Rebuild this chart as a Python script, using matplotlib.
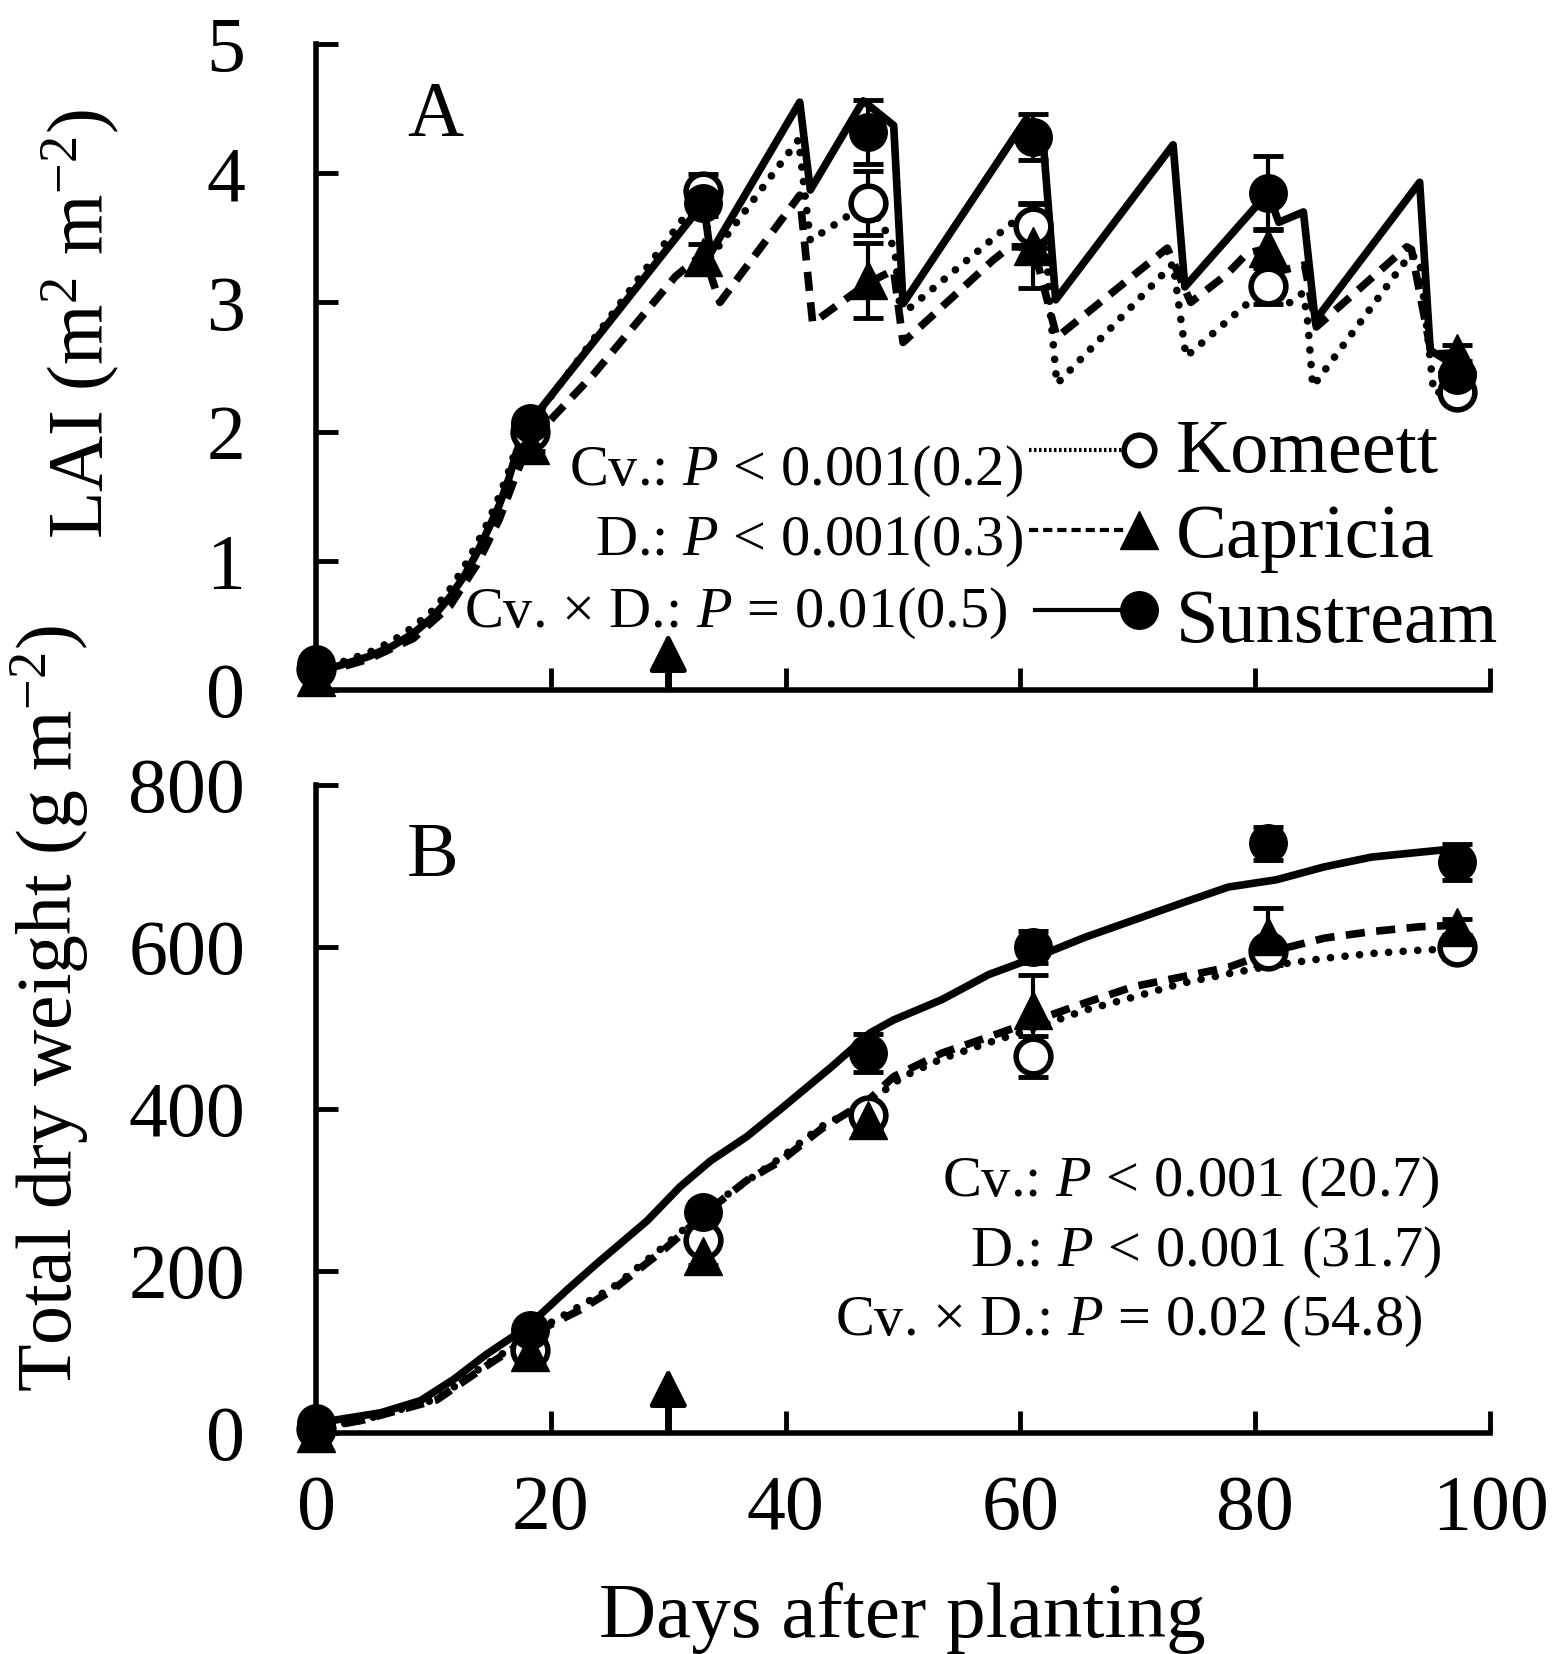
import matplotlib
matplotlib.use('Agg')
import matplotlib.pyplot as plt

plt.rcParams['font.family'] = ['Liberation Serif', 'DejaVu Serif']
plt.rcParams['mathtext.fontset'] = 'custom'
plt.rcParams['mathtext.rm'] = 'Liberation Serif'
plt.rcParams['mathtext.it'] = 'Liberation Serif:italic'

cultivars = ['Komeett', 'Capricia', 'Sunstream']
obs_days = [0, 18.2, 33.0, 47.0, 61.1, 81.1, 97.2]
harvest_day = 30

# LAI observations (m2 m-2) and standard errors
lai_obs = {
    'Komeett':   [0.16, 2.00, 3.86, 3.77, 3.59, 3.13, 2.31],
    'Capricia':  [0.10, 1.90, 3.35, 3.17, 3.44, 3.42, 2.61],
    'Sunstream': [0.20, 2.07, 3.77, 4.32, 4.28, 3.85, 2.44],
}
lai_err = {
    'Komeett':   [0.02, 0.05, 0.13, 0.25, 0.17, 0.14, 0.06],
    'Capricia':  [0.02, 0.05, 0.10, 0.29, 0.33, 0.14, 0.06],
    'Sunstream': [0.02, 0.05, 0.10, 0.25, 0.18, 0.28, 0.06],
}

# simulated LAI
sun_lai_days = [0, 2, 4.5, 6.5, 8.3, 10, 11.4, 12.6, 13.7, 14.7, 15.6, 16.4, 17.1, 18.2,
                33.0, 33.6, 41.2, 42.1, 46.6, 49.2, 50.0, 60.5, 62.0, 63.0, 73.0, 74.0,
                81.1, 82.0, 84.1, 85.1, 94.0, 94.9, 97.2]
sun_lai = [0.14, 0.19, 0.26, 0.34, 0.44, 0.57, 0.72, 0.88, 1.06, 1.25, 1.43, 1.63, 1.85, 2.07,
           3.77, 3.38, 4.55, 3.87, 4.56, 4.37, 2.99, 4.42, 4.17, 3.02, 4.22, 3.12,
           3.85, 3.62, 3.70, 2.86, 3.93, 2.63, 2.50]
kom_lai_days = [0, 2, 4.5, 6.5, 8.3, 10, 11.4, 12.6, 13.7, 14.7, 15.6, 16.4, 17.1, 18.2,
                33.0, 33.6, 41.1, 42.1, 47.0, 48.3, 49.3, 49.7, 50.6, 58.0, 59.5, 61.1,
                62.2, 62.5, 63.1, 73.0, 74.1, 81.1, 82.8, 84.0, 84.4, 84.9, 93.2, 94.0,
                95.2, 97.2]
kom_lai = [0.15, 0.21, 0.29, 0.38, 0.49, 0.62, 0.78, 0.95, 1.13, 1.31, 1.50, 1.69, 1.89, 2.05,
           3.86, 3.35, 4.26, 3.48, 3.77, 3.59, 3.41, 2.99, 2.96, 3.52, 3.63, 3.59,
           3.43, 2.97, 2.37, 3.30, 2.58, 3.13, 2.99, 3.07, 2.92, 2.35, 3.37, 3.33,
           2.30, 2.32]
cap_lai_days = [0, 4.5, 8.3, 11.4, 13.7, 15.6, 17.1, 18.2, 23.7, 30.6, 33.0, 34.4, 41.2,
                42.3, 47.0, 49.2, 50.0, 57.7, 59.1, 61.1, 63.1, 72.5, 74.5, 77.6, 79.3,
                81.1, 82.4, 84.2, 85.2, 92.9, 93.3, 95.0, 97.2]
cap_lai = [0.12, 0.24, 0.40, 0.65, 0.97, 1.32, 1.68, 1.92, 2.45, 3.20, 3.38, 3.00, 3.83,
           2.84, 3.15, 3.25, 2.69, 3.33, 3.43, 3.43, 2.73, 3.42, 3.00, 3.22, 3.38,
           3.42, 3.25, 3.29, 2.81, 3.43, 3.41, 2.60, 2.61]

# total dry weight observations (g m-2) and standard errors
dw_obs = {
    'Komeett':   [5, 103, 238, 393, 465, 595, 600],
    'Capricia':  [0, 100, 218, 387, 522, 613, 625],
    'Sunstream': [12, 127, 273, 469, 600, 728, 705],
}
dw_err = {
    'Komeett':   [2, 6, 10, 12, 25, 12, 15],
    'Capricia':  [2, 6, 10, 12, 43, 35, 10],
    'Sunstream': [3, 8, 12, 23, 20, 20, 22],
}

# simulated total dry weight
sun_dw_days = [0, 1.2, 5.5, 8.9, 11.7, 14.5, 17.9, 21.4, 23.9, 28.2, 31.0, 33.6, 36.7, 39.5,
               43.9, 47.2, 49.2, 53.3, 57.3, 61.4, 65.5, 69.6, 73.7, 77.7, 81.8, 85.9,
               89.9, 94.0, 97.5]
sun_dw = [10, 15, 25, 40, 66, 97, 130, 177, 209, 262, 304, 336, 366, 399,
          452, 494, 510, 535, 566, 588, 612, 633, 654, 674, 683, 699, 711, 717, 722]
cap_dw_days = [0, 4.0, 10.3, 14.0, 19.6, 22.5, 25.3, 29.6, 33.8, 36.7, 39.6, 43.0, 47.2,
               49.2, 53.3, 57.3, 61.4, 65.5, 69.6, 73.7, 77.7, 81.8, 85.9, 89.9, 94.0, 97.5]
cap_dw = [5, 16, 41, 78, 131, 152, 177, 226, 279, 312, 336, 375, 413,
          440, 469, 489, 510, 531, 551, 563, 575, 596, 611, 619, 625, 627]
kom_dw_days = [0, 4.0, 10.3, 14.0, 19.6, 25.3, 29.6, 33.8, 39.6, 43.0, 47.2, 50.0, 53.3,
               57.3, 61.4, 65.5, 69.6, 73.7, 77.7, 81.8, 85.9, 89.9, 94.0, 97.5]
kom_dw = [5, 16, 42, 80, 133, 180, 230, 282, 340, 378, 410, 440, 462,
          482, 501, 522, 538, 555, 567, 578, 586, 592, 596, 598]

sim_lai = {'Komeett': (kom_lai_days, kom_lai), 'Capricia': (cap_lai_days, cap_lai),
           'Sunstream': (sun_lai_days, sun_lai)}
sim_dw = {'Komeett': (kom_dw_days, kom_dw), 'Capricia': (cap_dw_days, cap_dw),
          'Sunstream': (sun_dw_days, sun_dw)}

lai_stats = ['Cv.: $P$ < 0.001(0.2)', 'D.: $P$ < 0.001(0.3)', 'Cv. × D.: $P$ = 0.01(0.5)']
dw_stats = ['Cv.: $P$ < 0.001 (20.7)', 'D.: $P$ < 0.001 (31.7)', 'Cv. × D.: $P$ = 0.02 (54.8)']

line_style = {
    'Komeett': dict(ls=(0, (0.01, 1.9)), dash_capstyle='round'),
    'Capricia': dict(ls=(0, (2.5, 1.5)), dash_capstyle='butt'),
    'Sunstream': dict(ls='-', solid_capstyle='round'),
}
mark_style = {
    'Komeett': dict(marker='o', mfc='white', mec='black', mew=4, ms=25),
    'Capricia': dict(marker='^', mfc='black', mec='black', mew=1, ms=27),
    'Sunstream': dict(marker='o', mfc='black', mec='black', mew=1, ms=27),
}


def draw_panel(ax, sim, obs, err, arrow_tip):
    for cv in cultivars:
        d, v = sim[cv]
        ax.plot(d, v, color='black', lw=5.5, zorder=2, **line_style[cv])
    for cv in cultivars:
        ax.errorbar(obs_days, obs[cv], yerr=err[cv], fmt='none', ecolor='black',
                    elinewidth=3, capsize=11, capthick=3.5, zorder=3, clip_on=False)
        ax.plot(obs_days, obs[cv], ls='none', zorder=4, clip_on=False, **mark_style[cv])
    # harvest arrow: stem from the axis up to a filled triangle
    ax.axvline(harvest_day, ymin=0, ymax=arrow_tip - 0.03, color='black', lw=5,
               solid_capstyle='butt', zorder=7)
    ax.annotate('', xy=(harvest_day, arrow_tip), xycoords=('data', 'axes fraction'),
                xytext=(harvest_day, 0.0), textcoords=('data', 'axes fraction'),
                arrowprops=dict(arrowstyle='-|>,head_length=1.15,head_width=0.58',
                                color='black', lw=3.5, shrinkA=0, shrinkB=0,
                                mutation_scale=20),
                zorder=6, annotation_clip=False)

    ax.spines['top'].set_visible(False)
    ax.spines['right'].set_visible(False)
    ax.spines['left'].set_linewidth(4)
    ax.spines['bottom'].set_linewidth(4)
    ax.tick_params(direction='in', length=16, width=3.5, labelsize=56)
    ax.tick_params(axis='y', pad=51)
    ax.tick_params(axis='x', pad=30)
    ax.set_xlim(0, 100)
    ax.set_xticks([0, 20, 40, 60, 80, 100])


fig = plt.figure(figsize=(15.53, 16.54), dpi=100)
ax1 = fig.add_axes([0.2035, 0.5828, 0.756, 0.3906])
ax2 = fig.add_axes([0.2035, 0.1336, 0.756, 0.3918])

draw_panel(ax1, sim_lai, lai_obs, lai_err, 0.088)
ax1.set_ylim(0, 5)
ax1.set_yticks([0, 1, 2, 3, 4, 5])
ax1.tick_params(axis='x', labelbottom=False)

draw_panel(ax2, sim_dw, dw_obs, dw_err, 0.100)
ax2.set_ylim(0, 800)
ax2.set_yticks([0, 200, 400, 600, 800])

# panel letters
ax1.text(0.0775, 0.859, 'A', transform=ax1.transAxes, fontsize=56, va='baseline')
ax2.text(0.0775, 0.860, 'B', transform=ax2.transAxes, fontsize=56, va='baseline')

# key with statistics in panel A
key_y = [0.372, 0.248, 0.124]
name_y = [0.337, 0.206, 0.075]
stat_y = [0.317, 0.209, 0.098]
stat_x = [0.602, 0.602, 0.589]
key_ls = {'Komeett': dict(ls=(0, (0.6, 0.6)), lw=3),
          'Capricia': dict(ls=(0, (2.2, 1.2)), lw=3),
          'Sunstream': dict(ls='-', lw=3)}
for i, cv in enumerate(cultivars):
    ax1.plot([0.607 if i != 2 else 0.612, 0.69], [key_y[i], key_y[i]], color='black',
             transform=ax1.transAxes, clip_on=False, **key_ls[cv])
    ms = dict(mark_style[cv])
    if cv == 'Komeett':
        ms['ms'] = 22
    ax1.plot([0.701], [key_y[i]], transform=ax1.transAxes, clip_on=False, zorder=5, **ms)
    ax1.text(0.7325, name_y[i], cv, transform=ax1.transAxes, fontsize=55, va='baseline')
    ax1.text(stat_x[i], stat_y[i], lai_stats[i], transform=ax1.transAxes, fontsize=42,
             ha='right', va='baseline')

# statistics in panel B
b_stat_x = [0.957, 0.959, 0.942]
b_stat_y = [0.366, 0.258, 0.151]
for i in range(3):
    ax2.text(b_stat_x[i], b_stat_y[i], dw_stats[i], transform=ax2.transAxes, fontsize=42,
             ha='right', va='baseline')

# axis labels
fig.text(0.052, 0.804, 'LAI (m$^{2}$ m$^{-2}$)', rotation=90, ha='center', va='center',
         fontsize=56)
fig.text(0.032, 0.3906, 'Total dry weight (g m$^{-2}$)', rotation=90, ha='center',
         va='center', fontsize=56)
fig.text(0.581, 0.0103, 'Days after planting', ha='center', va='baseline', fontsize=57)

fig.savefig('out.png', dpi=100)
